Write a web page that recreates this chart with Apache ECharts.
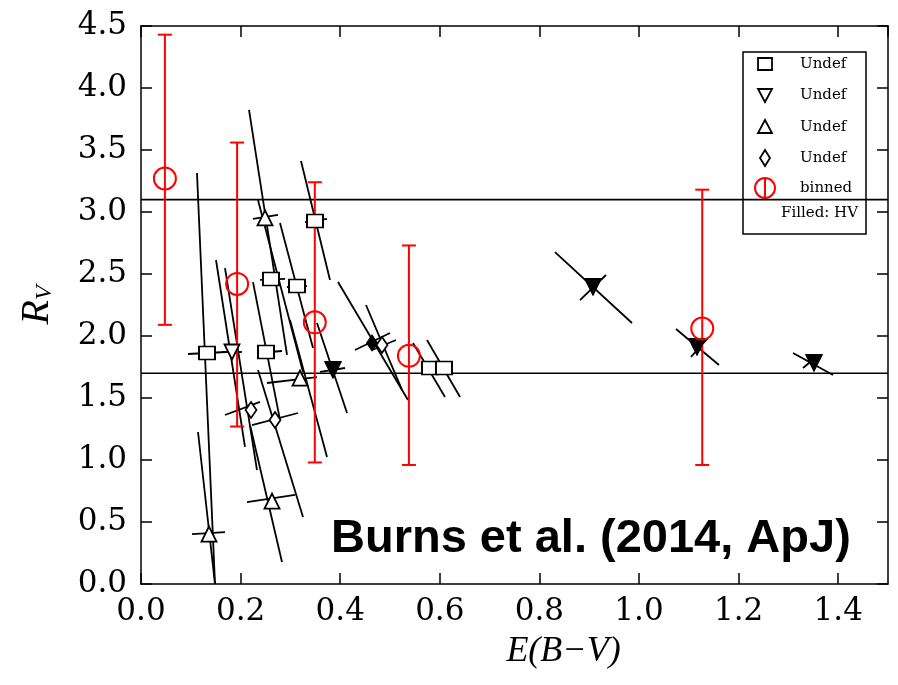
<!DOCTYPE html>
<html><head><meta charset="utf-8">
<script src="https://cdn.jsdelivr.net/npm/echarts@6/dist/echarts.min.js"></script>
<style>html,body{margin:0;padding:0;background:#fff}#c{width:898px;height:685px}</style>
</head><body><div id="c"></div><script>
// ---- data (E(B-V), R_V) ----
const openSquares = [[0.1325,1.863],[0.2510,1.871],[0.2610,2.460],[0.3133,2.403],[0.3494,2.927],[0.5803,1.742],[0.6084,1.742]];
// long correlated error (x1,y1,x2,y2) + short error (x3,y3,x4,y4)
const openSquaresErr = [
  [0.1124,3.315,0.1486,0.000, 0.0944,1.855,0.1707,1.871],
  [0.2249,2.435,0.2791,1.323, 0.2329,1.863,0.2831,1.879],
  [0.2349,3.097,0.3253,1.710, 0.2390,2.452,0.2892,2.460],
  [0.2791,2.911,0.3454,1.903, 0.2932,2.395,0.3333,2.403],
  [0.3213,3.411,0.3795,2.452, 0.3293,2.919,0.3735,2.944],
  [0.5462,1.944,0.6104,1.508, 0.5703,1.742,0.5903,1.742],
  [0.5743,1.968,0.6406,1.508, 0.5984,1.742,0.6184,1.742]
];
const openTriDown = [[0.1827,1.871]];
const openTriDownErr = [[0.1506,2.613,0.2088,1.105, 0.1627,1.871,0.2028,1.871]];
const openTriUp = [[0.2490,2.952],[0.3193,1.661],[0.2631,0.669],[0.1365,0.403]];
const openTriUpErr = [
  [0.2169,3.823,0.2932,1.847, 0.2249,2.944,0.2751,2.976],
  [0.2992,2.129,0.3735,1.024, 0.2530,1.621,0.3534,1.669],
  [0.2189,1.282,0.2831,0.177, 0.2129,0.661,0.3092,0.718],
  [0.1145,1.226,0.1486,0.000, 0.1024,0.403,0.1687,0.419]
];
const openDiamonds = [[0.2209,1.403],[0.2691,1.323],[0.4839,1.927]];
const openDiamondsErr = [
  [0.1687,2.548,0.2329,0.919, 0.1687,1.363,0.2390,1.468],
  [0.2349,1.726,0.3253,0.540, 0.2229,1.282,0.3153,1.379],
  [0.4518,2.250,0.5241,1.565, 0.4639,1.887,0.5120,1.968]
];
const hvTriDown = [[0.3855,1.726],[0.9076,2.395],[1.1165,1.911],[1.3514,1.782]];
const hvTriDownErr = [
  [0.3534,2.105,0.4137,1.379, 0.3594,1.710,0.4096,1.742],
  [0.8313,2.677,0.9859,2.105, 0.8815,2.290,0.9337,2.492],
  [1.0743,2.056,1.1606,1.766, 1.1044,1.831,1.1386,1.984],
  [1.3092,1.863,1.3896,1.685, 1.3293,1.742,1.3534,1.823]
];
const hvDiamonds = [[0.4639,1.944]];
const hvDiamondsErr = [[0.3956,2.435,0.5361,1.484, 0.4297,1.887,0.5000,2.024]];
// binned: x, y, low, high
const binned = [[0.048,3.27,2.09,4.43],[0.193,2.42,1.27,3.56],[0.349,2.11,0.98,3.24],[0.538,1.84,0.96,2.73],[1.127,2.06,0.96,3.18]];
const refLines = [3.1, 1.7];
const xRange = [0, 1.5];
const yRange = [0, 4.5];
const legendLabels = ['Undef','Undef','Undef','Undef','binned'];
const legendNote = 'Filled: HV';
const annotation = 'Burns et al. (2014, ApJ)';

// ---- chart ----
const chart = echarts.init(document.getElementById('c'), null, {renderer:'canvas'});
const allErr = [].concat(openSquaresErr, openTriDownErr, openTriUpErr, openDiamondsErr, hvTriDownErr, hvDiamondsErr);

function crossItem(params, api){
  const a=api.coord([api.value(0),api.value(1)]), b=api.coord([api.value(2),api.value(3)]);
  const c=api.coord([api.value(4),api.value(5)]), d=api.coord([api.value(6),api.value(7)]);
  const st={stroke:'#000',lineWidth:1.8};
  return {type:'group',children:[
    {type:'line',shape:{x1:a[0],y1:a[1],x2:b[0],y2:b[1]},style:st},
    {type:'line',shape:{x1:c[0],y1:c[1],x2:d[0],y2:d[1]},style:st}
  ]};
}
function barItem(params, api){
  const x=api.value(0);
  const lo=api.coord([x,api.value(2)]), hi=api.coord([x,api.value(3)]);
  const w=7, st={stroke:'#ff0000',lineWidth:2};
  return {type:'group',children:[
    {type:'line',shape:{x1:lo[0],y1:lo[1],x2:hi[0],y2:hi[1]},style:st},
    {type:'line',shape:{x1:lo[0]-w,y1:lo[1],x2:lo[0]+w,y2:lo[1]},style:st},
    {type:'line',shape:{x1:hi[0]-w,y1:hi[1],x2:hi[0]+w,y2:hi[1]},style:st}
  ]};
}
const serif = 'DejaVu Serif';
const axisCommon = {
  axisLine:{show:true,onZero:false,lineStyle:{color:'#000',width:1.5}},
  axisTick:{show:true,inside:true,length:11,lineStyle:{color:'#000',width:1.5}},
  splitLine:{show:false}
};
const openStyle = {color:'#fff',borderColor:'#000',borderWidth:1.8,opacity:1};
const fillStyle = {color:'#000',borderColor:'#000',borderWidth:1,opacity:1};

// legend graphic
const L = {x0:743,y0:52,x1:866,y1:234,sx:765,tx:800,rows:[64,95,127,158,188],note:213};
const lg = [];
lg.push({type:'rect',shape:{x:L.x0,y:L.y0,width:L.x1-L.x0,height:L.y1-L.y0},style:{fill:'#fff',stroke:'#000',lineWidth:1.5}});
lg.push({type:'rect',shape:{x:L.sx-7,y:L.rows[0]-6,width:14,height:12},style:{fill:'#fff',stroke:'#000',lineWidth:1.8}});
lg.push({type:'polygon',shape:{points:[[L.sx-7,L.rows[1]-6],[L.sx+7,L.rows[1]-6],[L.sx,L.rows[1]+7]]},style:{fill:'#fff',stroke:'#000',lineWidth:1.8}});
lg.push({type:'polygon',shape:{points:[[L.sx-7,L.rows[2]+6],[L.sx+7,L.rows[2]+6],[L.sx,L.rows[2]-7]]},style:{fill:'#fff',stroke:'#000',lineWidth:1.8}});
lg.push({type:'polygon',shape:{points:[[L.sx,L.rows[3]-8],[L.sx+5,L.rows[3]],[L.sx,L.rows[3]+8],[L.sx-5,L.rows[3]]]},style:{fill:'#fff',stroke:'#000',lineWidth:1.8}});
lg.push({type:'circle',shape:{cx:L.sx,cy:L.rows[4],r:10},style:{fill:'none',stroke:'#ff0000',lineWidth:2}});
lg.push({type:'line',shape:{x1:L.sx,y1:L.rows[4]-10,x2:L.sx,y2:L.rows[4]+10},style:{stroke:'#ff0000',lineWidth:2}});
legendLabels.forEach((t,i)=>lg.push({type:'text',style:{x:L.tx,y:L.rows[i],text:t,font:'15px "DejaVu Serif"',fill:'#000',textVerticalAlign:'middle'}}));
lg.push({type:'text',style:{x:L.x1-8,y:L.note,text:legendNote,font:'15px "DejaVu Serif"',fill:'#000',textAlign:'right',textVerticalAlign:'middle'}});

const option = {
  backgroundColor:'#fff',
  animation:false,
  grid:{left:141,right:10,top:26,bottom:101,show:false},
  xAxis:[
    Object.assign({type:'value',position:'bottom',min:xRange[0],max:xRange[1],interval:0.2,
      name:'E(B\u2212V)',nameLocation:'middle',nameGap:50,
      nameTextStyle:{fontFamily:'Liberation Serif',fontStyle:'italic',fontSize:36,color:'#000',padding:[0,0,0,98]},
      axisLabel:{showMaxLabel:false,margin:12,fontFamily:serif,fontSize:31,color:'#000',formatter:v=>v.toFixed(1)}},axisCommon),
    Object.assign({type:'value',position:'top',min:xRange[0],max:xRange[1],interval:0.2,axisLabel:{show:false}},axisCommon)
  ],
  yAxis:[
    Object.assign({type:'value',position:'left',min:yRange[0],max:yRange[1],interval:0.5,
      name:'{r|R}{s|V}',nameLocation:'middle',nameGap:84,nameRotate:90,
      nameTextStyle:{rich:{r:{fontFamily:'Liberation Serif',fontStyle:'italic',fontSize:40,color:'#000'},s:{fontFamily:'Liberation Serif',fontStyle:'italic',fontSize:24,color:'#000',verticalAlign:'bottom',padding:[14,0,0,0]}}},
      axisLabel:{margin:14,fontFamily:serif,fontSize:31,color:'#000',formatter:v=>v.toFixed(1)}},axisCommon),
    Object.assign({type:'value',position:'right',min:yRange[0],max:yRange[1],interval:0.5,axisLabel:{show:false}},axisCommon)
  ],
  graphic:[
    {type:'text',left:331,top:516,z:50,style:{text:annotation,font:'bold 47px "Liberation Sans"',fill:'#000'}},
    {type:'group',z:100,children:lg}
  ],
  series:[
    {type:'line',data:[[xRange[0],refLines[0]],[xRange[1],refLines[0]]],symbol:'none',lineStyle:{color:'#000',width:1.6},z:1},
    {type:'line',data:[[xRange[0],refLines[1]],[xRange[1],refLines[1]]],symbol:'none',lineStyle:{color:'#000',width:1.6},z:1},
    {type:'custom',renderItem:crossItem,data:allErr,encode:{x:[0,2,4,6],y:[1,3,5,7]},clip:true,z:2},
    {type:'custom',renderItem:barItem,data:binned,encode:{x:0,y:[2,3]},z:3},
    {type:'scatter',data:openSquares,symbol:'rect',symbolSize:[16,13],itemStyle:openStyle,z:5},
    {type:'scatter',data:openTriDown,symbol:'triangle',symbolRotate:180,symbolSize:15,itemStyle:openStyle,z:5},
    {type:'scatter',data:openTriUp,symbol:'triangle',symbolSize:15,itemStyle:openStyle,z:5},
    {type:'scatter',data:openDiamonds,symbol:'diamond',symbolSize:[11,16],itemStyle:openStyle,z:5},
    {type:'scatter',data:hvTriDown,symbol:'triangle',symbolRotate:180,symbolSize:17,itemStyle:fillStyle,z:5},
    {type:'scatter',data:hvDiamonds,symbol:'diamond',symbolSize:[11,16],itemStyle:fillStyle,z:5},
    {type:'scatter',data:binned.map(d=>[d[0],d[1]]),symbol:'circle',symbolSize:22,itemStyle:{color:'rgba(0,0,0,0)',borderColor:'#ff0000',borderWidth:2,opacity:1},z:6}
  ]
};
chart.setOption(option);
</script></body></html>
